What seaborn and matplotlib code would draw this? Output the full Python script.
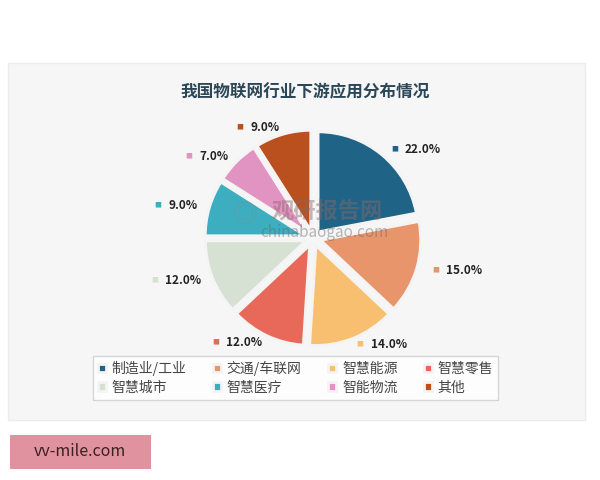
import matplotlib
matplotlib.use("Agg")
import numpy as np
import matplotlib.pyplot as plt
from matplotlib.patches import Rectangle
import seaborn as sns

# --- datos ---
categorias = ["制造业/工业", "交通/车联网", "智慧能源", "智慧零售",
              "智慧城市", "智慧医疗", "智能物流", "其他"]
porcentajes = [22.0, 15.0, 14.0, 12.0, 12.0, 9.0, 7.0, 9.0]
colores = ["#1f6386", "#e9956b", "#f9bf70", "#e8695a",
           "#d6e0d3", "#3caebf", "#e193c2", "#b9501e"]
titulo = "我国物联网行业下游应用分布情况"

sns.set_theme(style="white")
plt.rcParams["font.family"] = ["Noto Sans CJK SC", "DejaVu Sans"]

fig = plt.figure(figsize=(6, 4.8), dpi=100)
fig.patch.set_facecolor("white")

# panel gris claro
fig.add_artist(Rectangle((8 / 600, 1 - 420 / 480), 577 / 600, 357 / 480,
                         transform=fig.transFigure, facecolor="#f6f6f6",
                         edgecolor="#ececec", lw=1, zorder=0))

fig.text(305 / 600, 1 - 92 / 480, titulo, ha="center", va="center",
         fontsize=12, fontweight="bold", color="#2b4757")

# --- pastel ---
ax = fig.add_axes([(313 - 120) / 600, (480 - 238 - 120) / 480, 0.4, 0.5])
paleta = sns.color_palette(colores)
wedges, _ = ax.pie(porcentajes, colors=paleta, startangle=90, counterclock=False,
                   explode=[0.08] * len(porcentajes),
                   wedgeprops=dict(edgecolor="#f4f4f4", linewidth=2))
ax.set_xlim(-1.2, 1.2)
ax.set_ylim(-1.2, 1.2)
ax.axis("off")

# etiquetas: cuadrito de color + porcentaje
fig.canvas.draw()
renderer = fig.canvas.get_renderer()
for w, p, c in zip(wedges, porcentajes, paleta):
    ang = np.deg2rad((w.theta1 + w.theta2) / 2)
    y = 1.15 * np.sin(ang)
    if np.cos(ang) >= 0:
        x = 1.28 * np.cos(ang)
        ax.text(x, y, "■", color=c, fontsize=5, ha="center", va="center",
                clip_on=False)
        ax.annotate(f"{p:.1f}%", (x, y), xytext=(7.5, 0), textcoords="offset points",
                    fontsize=8.5, fontweight="bold", color="#222222",
                    ha="left", va="center", annotation_clip=False)
    else:
        x = 1.2 * np.cos(ang)
        t = ax.text(x, y, f"{p:.1f}%", fontsize=8.5, fontweight="bold",
                    color="#222222", ha="right", va="center", clip_on=False)
        ancho = t.get_window_extent(renderer).width * 72 / fig.dpi
        ax.annotate("■", (x, y), xytext=(-ancho - 7.5, 0), textcoords="offset points",
                    color=c, fontsize=5, ha="center", va="center",
                    annotation_clip=False)

# marca de agua
fig.text(245 / 600, 1 - 215 / 480, "◎", ha="center", va="center",
         fontsize=18, color="#888888", alpha=0.35)
fig.text(327 / 600, 1 - 212 / 480, "观研报告网", ha="center", va="center",
         fontsize=16, fontweight="bold", color="#8a6a6a", alpha=0.45)
fig.text(324 / 600, 1 - 232 / 480, "chinabaogao.com", ha="center", va="center",
         fontsize=11, color="#666666", alpha=0.45)

# leyenda (orden por filas)
orden = [0, 4, 1, 5, 2, 6, 3, 7]
fig.legend([wedges[i] for i in orden], [categorias[i] for i in orden],
           ncol=4, loc="upper left",
           bbox_to_anchor=(93 / 600, 1 - 356 / 480), frameon=True,
           fancybox=False, edgecolor="#cccccc", facecolor="white",
           fontsize=10, handlelength=0.6, handleheight=0.6,
           handletextpad=0.4, columnspacing=1.9, borderpad=0.35,
           labelspacing=0.35, labelcolor="#444444", borderaxespad=0)

# caja rosa inferior
fig.add_artist(Rectangle((10 / 600, 1 - 469 / 480), 141 / 600, 34 / 480,
                         transform=fig.transFigure, facecolor="#e0929f",
                         edgecolor="none"))
fig.text(80 / 600, 1 - 452 / 480, "vv-mile.com", ha="center", va="center",
         fontsize=11.5, color="#3a2020")

plt.savefig("out.png", dpi=100)
